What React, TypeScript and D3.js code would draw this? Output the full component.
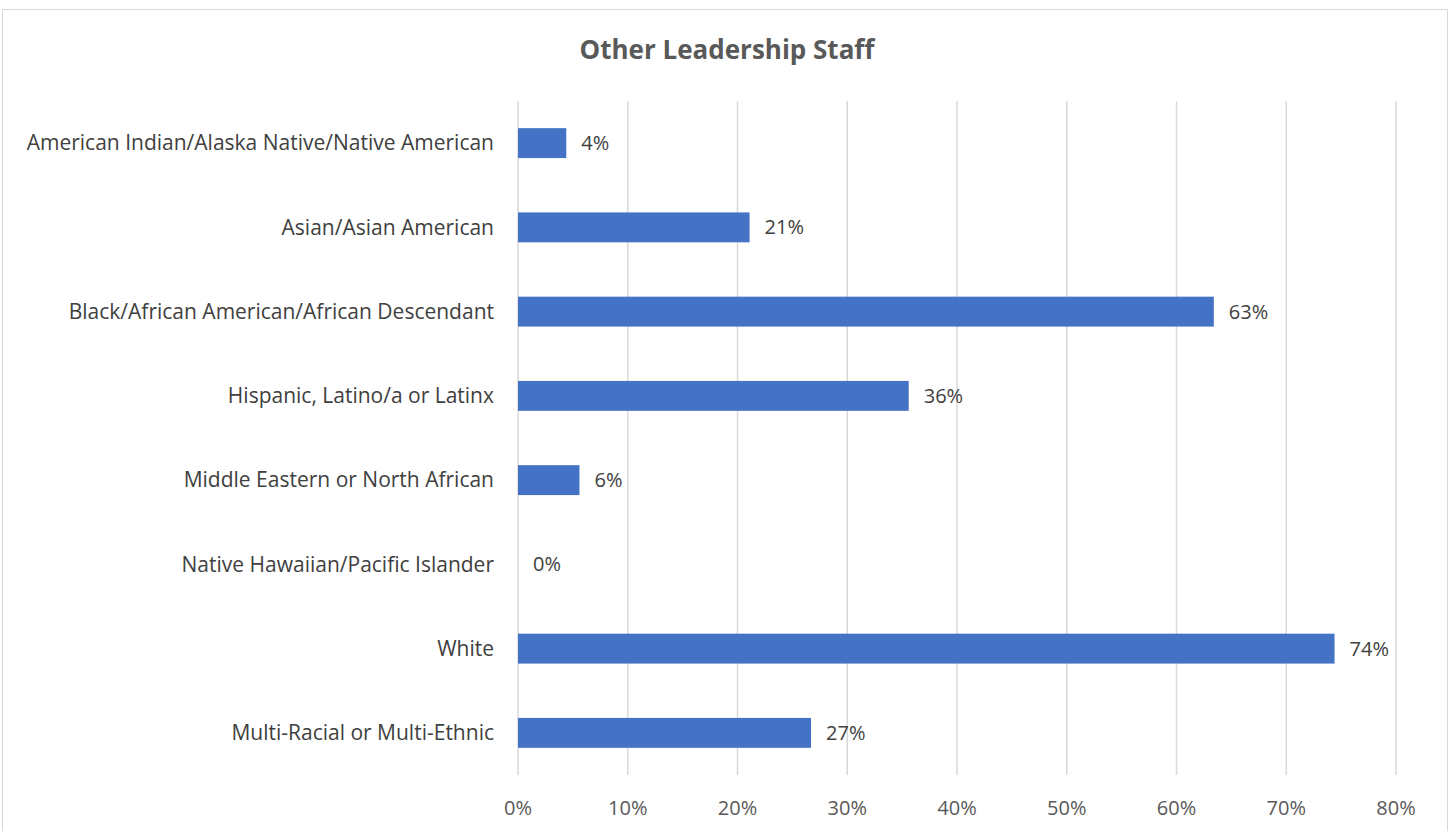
import React from "react";
import * as d3 from "d3";

const categories = [
  "American Indian/Alaska Native/Native American",
  "Asian/Asian American",
  "Black/African American/African Descendant",
  "Hispanic, Latino/a or Latinx",
  "Middle Eastern or North African",
  "Native Hawaiian/Pacific Islander",
  "White",
  "Multi-Racial or Multi-Ethnic",
];
const values = [4.4, 21.1, 63.4, 35.6, 5.6, 0, 74.4, 26.7];
const labels = ["4%", "21%", "63%", "36%", "6%", "0%", "74%", "27%"];
const ticks = [0, 10, 20, 30, 40, 50, 60, 70, 80];

const W = 1453;
const H = 831;
const font = "'Open Sans', 'Liberation Sans', sans-serif";

export default function App() {
  const x = d3.scaleLinear().domain([0, 80]).range([518, 1396]);
  const y = d3
    .scaleBand<string>()
    .domain(categories)
    .range([101, 775])
    .paddingInner(0.645)
    .paddingOuter(0.3225);
  return (
    <svg
      width={W}
      height={H}
      style={{ position: "absolute", left: 0, top: 0, background: "#fff" }}
    >
      <rect x={2.5} y={9.5} width={1445} height={840} fill="#fff" stroke="#d9d9d9" strokeWidth={1} />
      <text
        x={727}
        y={59}
        textAnchor="middle"
        fontFamily={font}
        fontWeight="bold"
        fontSize={26}
        fill="#595959"
      >
        Other Leadership Staff
      </text>
      {ticks.map((t) => (
        <g key={t}>
          <line x1={x(t)} x2={x(t)} y1={101} y2={775} stroke="#d9d9d9" strokeWidth={1.5} />
          <text
            x={x(t)}
            y={815}
            textAnchor="middle"
            fontFamily={font}
            fontSize={20}
            fill="#595959"
          >
            {t}%
          </text>
        </g>
      ))}
      {categories.map((c, i) => {
        const yc = (y(c) as number) + y.bandwidth() / 2;
        return (
          <g key={c}>
            {values[i] > 0 && (
              <rect
                x={x(0)}
                y={y(c)}
                width={x(values[i]) - x(0)}
                height={y.bandwidth()}
                fill="#4472c4"
              />
            )}
            <text
              x={x(values[i]) + 15}
              y={yc}
              dy="0.35em"
              fontFamily={font}
              fontSize={20}
              fill="#404040"
            >
              {labels[i]}
            </text>
            <text
              x={494}
              y={yc}
              dy="0.35em"
              textAnchor="end"
              fontFamily={font}
              fontSize={21}
              fill="#404040"
            >
              {c}
            </text>
          </g>
        );
      })}
    </svg>
  );
}
